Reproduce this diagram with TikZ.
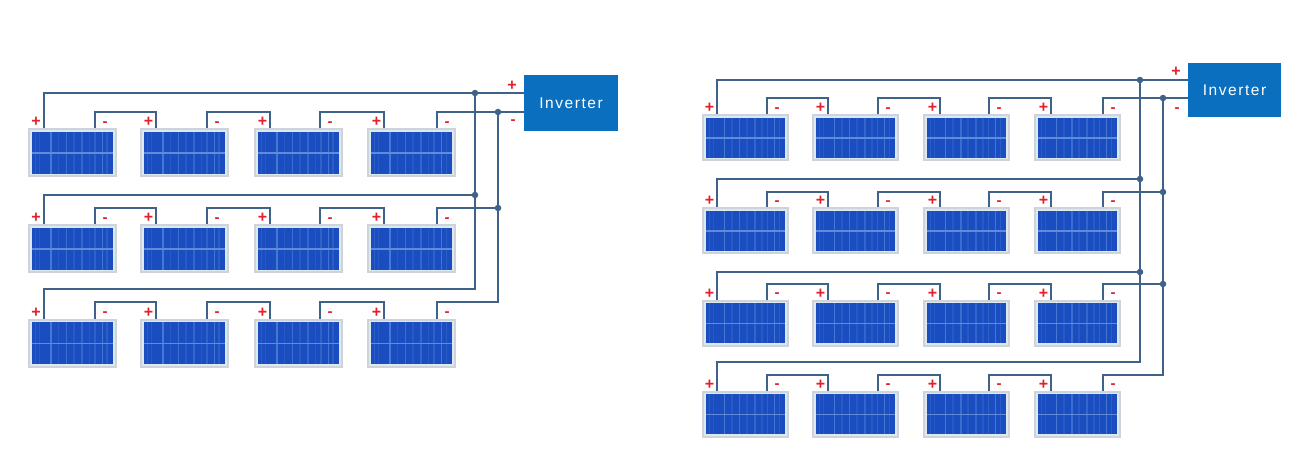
\documentclass[tikz,border=0pt]{standalone}
\usepackage{fontspec}
\setmainfont{Liberation Sans}
\newfontfamily\invfont[LetterSpace=10]{Liberation Sans}
\definecolor{wirec}{HTML}{3F6288}
\definecolor{framec}{HTML}{CDD3D8}
\definecolor{edgec}{HTML}{DCE8F2}
\definecolor{cellc}{HTML}{1A4EC0}
\definecolor{stripec}{HTML}{6F9BE2}
\definecolor{invc}{HTML}{0A6FBE}
\definecolor{signc}{HTML}{E4202C}
\tikzset{
  wire/.style={draw=wirec,line width=2pt,line join=miter},
  jdot/.style={circle,fill=wirec,inner sep=0pt,minimum size=6.5pt},
  panelbox/.style={rectangle,fill=framec,draw=none,inner sep=0pt,outer sep=0pt,anchor=north west},
  invbox/.style={rectangle,fill=invc,draw=none,inner sep=0pt,outer sep=0pt,anchor=north west,text=white,font=\invfont\fontsize{15.5}{15.5}\selectfont},
  plussign/.style={text=signc,font=\bfseries\fontsize{16}{16}\selectfont,inner sep=0pt},
  minussign/.style={text=signc,font=\bfseries\fontsize{15}{15}\selectfont,inner sep=0pt},
}
% #1 name, #2 left, #3 top, #4 width, #5 height
\newcommand\solarpanel[5]{%
  \node[panelbox,minimum width=#4pt,minimum height=#5pt] (#1) at (#2,#3) {};
  \begin{scope}[shift={(#1.north west)}]
    \fill[edgec] (2,2) rectangle (#4-2,#5-2);
    \fill[cellc] (3.5,3.5) rectangle (#4-3.5,#5-3.5);
    \foreach \f/\o in {.05/20,.10/15,.24/55,.33/15,.43/40,.52/15,.62/30,.71/15,.78/25,.87/50,.93/20}
      \draw[stripec!\o!cellc,line width=1.6pt] ({3.5+\f*(#4-7)},3.5) -- ({3.5+\f*(#4-7)},#5-3.5);
    \draw[stripec!80!cellc,line width=1.4pt] (3.5,{#5/2+.5}) -- (#4-3.5,{#5/2+.5});
  \end{scope}
}
% #1 prefix, #2 top, #3 jumper y, #4 column list, #5 width, #6 height
\newcommand\solarrow[6]{%
  \foreach \c/\l/\p/\m in #4 {
    \solarpanel{#1P\c}{\l}{#2}{#5}{#6}
    \coordinate (#1p\c) at (\p,#2);
    \coordinate (#1m\c) at (\m,#2);
    \node[plussign] (#1lp\c) at (\p-7.5,#2-6) {+};
    \node[minussign] (#1lm\c) at (\m+10,#2-4) {-};
  }
  \foreach \c/\n in {1/2,2/3,3/4} {
    \coordinate (#1h\c) at (0,#3);
    \draw[wire] (#1m\c) -- (#1m\c |- #1h\c) -- (#1p\n |- #1h\c) -- (#1p\n);
  }
}
\begin{document}
\begin{tikzpicture}[x=1pt,y=-1pt]
\useasboundingbox (0,0) rectangle (1289,451);
%
% LEFT ARRAY
\solarrow{La}{128}{112}{{1/28/43.5/95,2/140/156/207,3/254/270/320,4/367/384/437}}{88.5}{49}
\solarrow{Lb}{224}{208}{{1/28/43.5/95,2/140/156/207,3/254/270/320,4/367/384/437}}{88.5}{49}
\solarrow{Lc}{318.5}{302}{{1/28/43.5/95,2/140/156/207,3/254/270/320,4/367/384/437}}{88.5}{49}
\node[invbox,minimum width=94pt,minimum height=56pt] (Linv) at (524,75) {Inverter};
\node[jdot] (Lj1) at (475,93) {};
\node[jdot] (Lk1) at (498,112) {};
\node[jdot] (Lj2) at (475,195) {};
\node[jdot] (Lk2) at (498,208) {};
\coordinate (Lj3) at (475,289);
\coordinate (Lk3) at (498,302);
\draw[wire] (Lap1) |- (Lj1) -- (Lj1 -| Linv.west);
\draw[wire] (Lam4) |- (Lk1) -- (Lk1 -| Linv.west);
\draw[wire] (Lbp1) |- (Lj2);
\draw[wire] (Lbm4) |- (Lk2);
\draw[wire] (Lcp1) |- (Lj3) -- (Lj2) -- (Lj1);
\draw[wire] (Lcm4) |- (Lk3) -- (Lk2) -- (Lk1);
\node[plussign] (Lip) at (512,85.5) {+};
\node[minussign] (Lim) at (513,122) {-};
%
% RIGHT ARRAY
\solarrow{Ra}{114}{98}{{1/702/717/767,2/812/828/878,3/923/940/989,4/1034/1051/1103}}{86.5}{47}
\solarrow{Rb}{207}{192}{{1/702/717/767,2/812/828/878,3/923/940/989,4/1034/1051/1103}}{86.5}{47}
\solarrow{Rc}{299.5}{284}{{1/702/717/767,2/812/828/878,3/923/940/989,4/1034/1051/1103}}{86.5}{47}
\solarrow{Rd}{390.5}{374.5}{{1/702/717/767,2/812/828/878,3/923/940/989,4/1034/1051/1103}}{86.5}{47}
\node[invbox,minimum width=93pt,minimum height=53.5pt] (Rinv) at (1188,63) {Inverter};
\node[jdot] (Rj1) at (1140,80) {};
\node[jdot] (Rk1) at (1163,98) {};
\node[jdot] (Rj2) at (1140,179) {};
\node[jdot] (Rk2) at (1163,192) {};
\node[jdot] (Rj3) at (1140,272) {};
\node[jdot] (Rk3) at (1163,284) {};
\coordinate (Rj4) at (1140,362);
\coordinate (Rk4) at (1163,374.5);
\draw[wire] (Rap1) |- (Rj1) -- (Rj1 -| Rinv.west);
\draw[wire] (Ram4) |- (Rk1) -- (Rk1 -| Rinv.west);
\draw[wire] (Rbp1) |- (Rj2);
\draw[wire] (Rbm4) |- (Rk2);
\draw[wire] (Rcp1) |- (Rj3);
\draw[wire] (Rcm4) |- (Rk3);
\draw[wire] (Rdp1) |- (Rj4) -- (Rj3) -- (Rj2) -- (Rj1);
\draw[wire] (Rdm4) |- (Rk4) -- (Rk3) -- (Rk2) -- (Rk1);
\node[plussign] (Rip) at (1176,72) {+};
\node[minussign] (Rim) at (1177,110) {-};
\end{tikzpicture}
\end{document}
